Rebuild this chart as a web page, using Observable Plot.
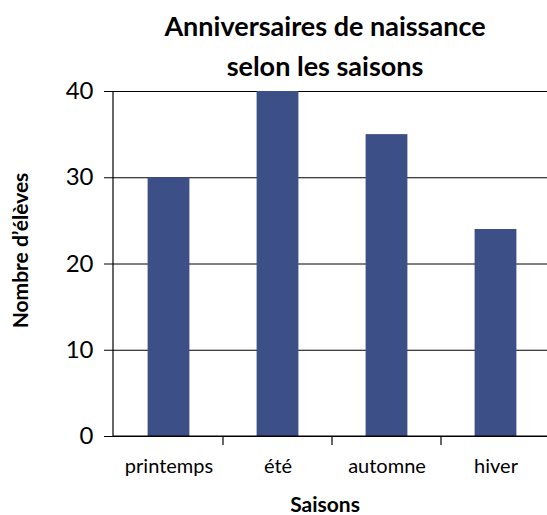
<!DOCTYPE html><html><head><meta charset="utf-8">
<script src="https://cdn.jsdelivr.net/npm/d3@7"></script>
<script src="https://cdn.jsdelivr.net/npm/@observablehq/plot@0.6"></script>
<style>body{margin:0;background:#fff;font-family:Lato,sans-serif;overflow:hidden}</style>
</head><body><div id="chart"></div><script>
const seasons = ["printemps","été","automne","hiver"];
const students = [30,40,35,24];
const yTicks = [0,10,20,30,40];
const title = "Anniversaires de naissance\nselon les saisons";
const xLabel = "Saisons";
const yLabel = "Nombre d’élèves";
const data = seasons.map((s,i)=>({season:s, n:students[i]}));

const frameLines = (index, scales, values, dims) => {
  const g = d3.create("svg:g").attr("stroke","black").attr("stroke-width",1.2);
  const x = scales.x, y = scales.y;
  const y0 = y(0), yTop = y(40);
  const xl = dims.marginLeft, xr = dims.width - dims.marginRight;
  g.append("line").attr("x1", xl).attr("x2", xl).attr("y1", yTop).attr("y2", y0);
  g.append("line").attr("x1", xl).attr("x2", xr).attr("y1", y0).attr("y2", y0);
  seasons.slice(1).forEach(s => { const px = x(s); g.append("line").attr("x1",px).attr("x2",px).attr("y1",y0).attr("y2",y0+9); });
  return g.node();
};

const chart = Plot.plot({
  width: 547, height: 515,
  marginLeft: 113, marginRight: -3, marginTop: 91, marginBottom: 79,
  style: {fontFamily: "Lato, sans-serif", background: "white", color: "black", overflow: "hidden"},
  x: {domain: seasons, padding: 0, label: null},
  y: {domain: [0, 40], label: null},
  marks: [
    Plot.ruleY(yTicks, {stroke: "black", strokeWidth: 1}),
    Plot.barY(data, {x: "season", y: "n", fill: "#3d4f87", insetLeft: 33.6, insetRight: 33.6}),
    Plot.axisY({ticks: yTicks, tickSize: 9, tickPadding: 11, fontSize: 24, stroke: "black", label: null}),
    Plot.axisX({tickSize: 0, tickPadding: 22, fontSize: 20, label: null}),
    frameLines,
    Plot.text([title], {frameAnchor: "top", lineAnchor: "middle", dx: -7, dy: -48.5, fontSize: 27, fontWeight: "bold", lineHeight: 1.48}),
    Plot.text([xLabel], {frameAnchor: "bottom", lineAnchor: "middle", dx: -7, dy: 68.5, fontSize: 21, fontWeight: "bold"}),
    Plot.text([yLabel], {frameAnchor: "left", textAnchor: "middle", lineAnchor: "middle", rotate: -90, dx: -92.4, dy: -13.5, fontSize: 21, fontWeight: "bold"})
  ]
});
document.getElementById("chart").appendChild(chart);
</script></body></html>
